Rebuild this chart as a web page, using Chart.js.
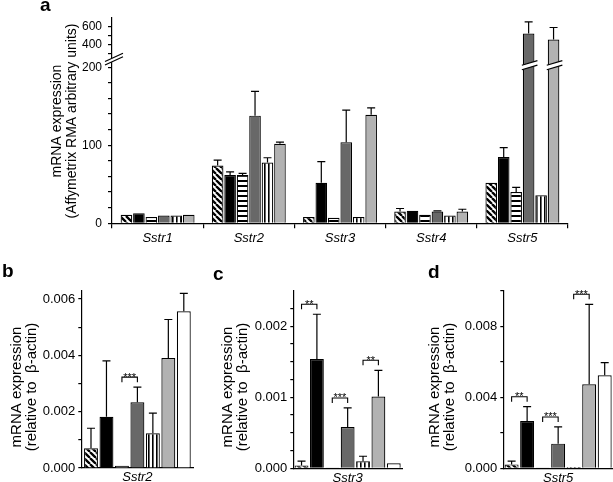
<!DOCTYPE html>
<html>
<head>
<meta charset="utf-8">
<script src="https://cdn.jsdelivr.net/npm/chart.js@4.4.1/dist/chart.umd.min.js"></script>
<style>
    html, body { margin: 0; padding: 0; background: #fff; }
    body { width: 613px; height: 482px; position: relative; overflow: hidden; }
    .panel { position: absolute; }
</style>
</head>
<body>
<div class="panel" style="left:0;top:0;width:613px;height:250px"><canvas id="chartA"></canvas></div>
<div class="panel" style="left:0;top:260px;width:200px;height:222px"><canvas id="chartB"></canvas></div>
<div class="panel" style="left:200px;top:260px;width:210px;height:222px"><canvas id="chartC"></canvas></div>
<div class="panel" style="left:410px;top:260px;width:203px;height:222px"><canvas id="chartD"></canvas></div>
<script>
// Panel a: Affymetrix RMA values, 6 groups per receptor
const aCategories = ['Sstr1', 'Sstr2', 'Sstr3', 'Sstr4', 'Sstr5'];
const aHatched    = [11, 74, 8, 15, 52];
const aHatchedErr = [null, 81, null, 19, null];
const aBlack      = [13, 62, 52, 16, 85];
const aBlackErr   = [null, 66, 79, null, 97];
const aHoriz      = [8, 62, 7, 11, 40];
const aHorizErr   = [null, 64, null, null, 46];
const aDark       = [10, 138, 104, 15, 524];
const aDarkErr    = [null, 169, 145, 16, 656];
const aVert       = [10, 78, 8, 10, 36];
const aVertErr    = [null, 84, null, null, null];
const aLight      = [11, 102, 139, 15, 456];
const aLightErr   = [null, 104, 148, 18, 592];
const aTickValues = [0, 20, 40, 60, 80, 100, 120, 140, 160, 180, 200, 300, 400, 500, 600];
const aTickLabels = ['0', '', '', '', '', '100', '', '', '', '', '200', '', '400', '', '600'];

// Panels b-d: qPCR relative to beta-actin, 7 groups each
const bCategory = ['Sstr2'];
const bValues = [0.0007, 0.00182, 0.00008, 0.00233, 0.00123, 0.0039, 0.00556];
const bErrors = [0.00141, 0.0038, null, 0.00287, 0.00195, 0.00527, 0.0062];
const bSig = [[2, 3, '***']];
const bTickValues = [0, 0.001, 0.002, 0.003, 0.004, 0.005, 0.006];
const bTickLabels = ['0.000', '', '0.002', '', '0.004', '', '0.006'];

const cCategory = ['Sstr3'];
const cValues = [0.00004, 0.00154, 0.00001, 0.00058, 0.0001, 0.00101, 0.00007];
const cErrors = [0.0001, 0.00217, null, 0.00085, 0.00017, 0.00138, null];
const cSig = [[0, 1, '**'], [2, 3, '***'], [4, 5, '**']];
const cTickValues = [0, 0.00025, 0.0005, 0.00075, 0.001, 0.00125, 0.0015, 0.00175, 0.002, 0.00225];
const cTickLabels = ['0.000', '', '', '', '0.001', '', '', '', '0.002', ''];

const dCategory = ['Sstr5'];
const dValues = [0.00022, 0.00266, 0.00002, 0.00139, 0.00008, 0.00473, 0.00524];
const dErrors = [0.0004, 0.00347, null, 0.00233, null, 0.00924, 0.00595];
const dSig = [[0, 1, '**'], [2, 3, '***'], [4, 5, '***']];
const dTickValues = [0, 0.002, 0.004, 0.006, 0.008, 0.01];
const dTickLabels = ['0.000', '', '0.004', '', '0.008', ''];

// broken axis for panel a
const aLowMax = 205, aHighMin = 280, aMax = 700;
const aLowFrac = 0.779, aHighFrac = 0.82;

const FONT = '"Liberation Sans", Arial, sans-serif';
Chart.defaults.font.family = FONT;
Chart.defaults.color = '#000';
Chart.defaults.animation = false;

class BrokenLinearScale extends Chart.LinearScale {
    getPixelForValue(value) {
        if (value === null || isNaN(value)) return NaN;
        let d;
        if (value <= aLowMax) {
            d = value / aLowMax * aLowFrac;
        } else if (value >= aHighMin) {
            d = aHighFrac + (value - aHighMin) / (aMax - aHighMin) * (1 - aHighFrac);
        } else {
            d = aLowFrac + (value - aLowMax) / (aHighMin - aLowMax) * (aHighFrac - aLowFrac);
        }
        return this.getPixelForDecimal(d);
    }
}
BrokenLinearScale.id = 'brokenLinear';
BrokenLinearScale.defaults = Chart.LinearScale.defaults;
Chart.register(BrokenLinearScale);

function makePattern(kind) {
    const c = document.createElement('canvas');
    const s = kind === 'diag' ? 6 : (kind === 'horiz' ? 5 : 4);
    c.width = s; c.height = s;
    const g = c.getContext('2d');
    g.fillStyle = '#fff';
    g.fillRect(0, 0, s, s);
    g.fillStyle = '#000';
    g.strokeStyle = '#000';
    if (kind === 'diag') {
        // lines running top-left to bottom-right
        g.lineWidth = 2.3;
        g.beginPath();
        for (let k = -s; k <= s; k += s) {
            g.moveTo(k, 0);
            g.lineTo(k + s, s);
        }
        g.stroke();
    } else if (kind === 'horiz') {
        g.fillRect(0, 0, s, 2);
    } else {
        g.fillRect(0, 0, 1.6, s);
    }
    return g.createPattern(c, 'repeat');
}

const fills = [makePattern('diag'), '#000', makePattern('horiz'), '#686868', makePattern('vert'), '#b2b2b2', '#fff'];

function drawErrorBars(chart, errSeries, capW) {
    const ctx = chart.ctx;
    const y = chart.scales.y;
    ctx.save();
    ctx.strokeStyle = '#000';
    ctx.lineWidth = 1.2;
    errSeries.forEach((errs, i) => {
        chart.getDatasetMeta(i).data.forEach((bar, j) => {
            const e = errs[j];
            if (e == null) return;
            const top = y.getPixelForValue(e);
            ctx.beginPath();
            ctx.moveTo(bar.x, bar.y);
            ctx.lineTo(bar.x, top);
            ctx.moveTo(bar.x - capW / 2, top);
            ctx.lineTo(bar.x + capW / 2, top);
            ctx.stroke();
        });
    });
    ctx.restore();
}

function drawSig(chart, sig, values, errors) {
    const ctx = chart.ctx;
    const y = chart.scales.y;
    ctx.save();
    ctx.strokeStyle = '#000';
    ctx.fillStyle = '#000';
    ctx.lineWidth = 1.1;
    ctx.font = '11px ' + FONT;
    ctx.textAlign = 'center';
    ctx.textBaseline = 'alphabetic';
    sig.forEach(([i, j, stars]) => {
        const bi = chart.getDatasetMeta(i).data[0];
        const bj = chart.getDatasetMeta(j).data[0];
        const topOf = k => y.getPixelForValue(Math.max(values[k], errors[k] || 0));
        const yb = Math.min(topOf(i), topOf(j)) - 10;
        ctx.beginPath();
        ctx.moveTo(bi.x, yb + 5);
        ctx.lineTo(bi.x, yb);
        ctx.lineTo(bj.x, yb);
        ctx.lineTo(bj.x, yb + 5);
        ctx.stroke();
        ctx.fillText(stars, (bi.x + bj.x) / 2, yb + 3.5);
    });
    ctx.restore();
}

function drawLabels(ctx, letter, lx, ly, lines, tx, ty, size) {
    ctx.save();
    ctx.fillStyle = '#000';
    ctx.font = 'bold 19px ' + FONT;
    ctx.textAlign = 'left';
    ctx.textBaseline = 'alphabetic';
    ctx.fillText(letter, lx, ly);
    ctx.translate(tx, ty);
    ctx.rotate(-Math.PI / 2);
    ctx.font = size + 'px ' + FONT;
    ctx.textAlign = 'center';
    ctx.textBaseline = 'middle';
    lines.forEach((t, k) => ctx.fillText(t, 0, k * 15));
    ctx.restore();
}

function drawBreak(ctx, x1, x2, yc, slope, gap) {
    const xm = (x1 + x2) / 2;
    const yA = yc + (xm - x1) * slope;
    const yB = yc - (x2 - xm) * slope;
    ctx.fillStyle = '#fff';
    ctx.beginPath();
    ctx.moveTo(x1, yA - gap / 2);
    ctx.lineTo(x2, yB - gap / 2);
    ctx.lineTo(x2, yB + gap / 2);
    ctx.lineTo(x1, yA + gap / 2);
    ctx.closePath();
    ctx.fill();
    ctx.strokeStyle = '#000';
    ctx.lineWidth = 1.2;
    ctx.beginPath();
    ctx.moveTo(x1, yA - gap / 2);
    ctx.lineTo(x2, yB - gap / 2);
    ctx.moveTo(x1, yA + gap / 2);
    ctx.lineTo(x2, yB + gap / 2);
    ctx.stroke();
}

// ---- panel a ----
const aSeries = [aHatched, aBlack, aHoriz, aDark, aVert, aLight];
const aErrSeries = [aHatchedErr, aBlackErr, aHorizErr, aDarkErr, aVertErr, aLightErr];

new Chart(document.getElementById('chartA'), {
    type: 'bar',
    data: {
        labels: aCategories,
        datasets: aSeries.map((s, i) => ({
            data: s,
            backgroundColor: fills[i],
            borderColor: '#000',
            borderWidth: 1.2,
            barPercentage: 0.93,
            categoryPercentage: 0.82
        }))
    },
    options: {
        responsive: true,
        maintainAspectRatio: false,
        events: [],
        layout: { padding: { top: 18, right: 45, left: 0, bottom: 0 } },
        plugins: { legend: { display: false }, tooltip: { enabled: false } },
        scales: {
            x: {
                grid: { drawOnChartArea: false, color: '#000', lineWidth: 1.2, tickLength: 5 },
                border: { color: '#000', width: 1.2 },
                ticks: { font: { size: 13, style: 'italic' }, padding: 2 },
                afterFit: s => { s.height = 26.7; }
            },
            y: {
                type: 'brokenLinear',
                min: 0,
                max: aMax,
                grid: { drawOnChartArea: false, color: '#000', lineWidth: 1.2, tickLength: 4 },
                border: { color: '#000', width: 1.2 },
                afterBuildTicks: s => { s.ticks = aTickValues.map(v => ({ value: v })); },
                ticks: { autoSkip: false, callback: (v, i) => aTickLabels[i], font: { size: 12 }, padding: 6 },
                afterFit: s => { s.width = 112; }
            }
        }
    },
    plugins: [{
        id: 'panelA',
        afterDatasetsDraw(chart) {
            drawErrorBars(chart, aErrSeries, 8);
        },
        afterDraw(chart) {
            const ctx = chart.ctx;
            const y = chart.scales.y;
            const gapY = (y.getPixelForValue(aLowMax) + y.getPixelForValue(aHighMin)) / 2;
            const x0 = chart.chartArea.left;
            ctx.save();
            drawBreak(ctx, x0 - 7, x0 + 11, gapY, 0.46, 3.5);
            aSeries.forEach((s, i) => {
                chart.getDatasetMeta(i).data.forEach((bar, j) => {
                    if (s[j] > aHighMin) {
                        drawBreak(ctx, bar.x - bar.width / 2 - 1, bar.x + bar.width / 2 + 3, gapY + 6, 0.3, 4.5);
                    }
                });
            });
            ctx.restore();
            drawLabels(ctx, 'a', 40, 11, ['mRNA expression', '(Affymetrix RMA arbitrary units)'], 57, 121, 14);
        }
    }]
});

// ---- panels b-d ----
function smallPanel(id, cats, values, errors, sig, max, tickValues, tickLabels, box) {
    new Chart(document.getElementById(id), {
        type: 'bar',
        data: {
            labels: cats,
            datasets: values.map((v, i) => ({
                data: [v],
                backgroundColor: fills[i],
                borderColor: '#000',
                borderWidth: 1.2,
                barPercentage: 0.9,
                categoryPercentage: box.catPct
            }))
        },
        options: {
            responsive: true,
            maintainAspectRatio: false,
            events: [],
            layout: { padding: { top: box.padTop, right: box.padRight, left: 0, bottom: 0 } },
            plugins: { legend: { display: false }, tooltip: { enabled: false } },
            scales: {
                x: {
                    grid: { display: false, drawTicks: false },
                    border: { color: '#000', width: 1.2 },
                    ticks: { font: { size: 13, style: 'italic' }, padding: 2 },
                    afterFit: s => { s.height = box.xH; }
                },
                y: {
                    min: 0,
                    max: max,
                    grid: { drawOnChartArea: false, color: '#000', lineWidth: 1.2, tickLength: 3 },
                    border: { color: '#000', width: 1.2 },
                    afterBuildTicks: s => { s.ticks = tickValues.map(v => ({ value: v })); },
                    ticks: { autoSkip: false, callback: (v, i) => tickLabels[i], font: { size: 13 }, padding: 3 },
                    afterFit: s => { s.width = box.yW; }
                }
            }
        },
        plugins: [{
            id: 'panelExtras',
            afterDatasetsDraw(chart) {
                drawErrorBars(chart, errors.map(e => [e]), 8);
                drawSig(chart, sig, values, errors);
            },
            afterDraw(chart) {
                drawLabels(chart.ctx, box.letter, box.lx, box.ly,
                    ['mRNA expression', '(relative to  \u03b2-actin)'], box.tx, 127, 15);
            }
        }]
    });
}

smallPanel('chartB', bCategory, bValues, bErrors, bSig, 0.0063, bTickValues, bTickLabels,
    { padTop: 30.5, padRight: 6.5, yW: 81.3, xH: 14, catPct: 0.965, letter: 'b', lx: 2, ly: 17, tx: 17 });
smallPanel('chartC', cCategory, cValues, cErrors, cSig, 0.0025, cTickValues, cTickLabels,
    { padTop: 30.8, padRight: 8, yW: 93.3, xH: 13.7, catPct: 0.99, letter: 'c', lx: 13, ly: 20, tx: 28 });
smallPanel('chartD', dCategory, dValues, dErrors, dSig, 0.01, dTickValues, dTickLabels,
    { padTop: 30.8, padRight: 0, yW: 93.3, xH: 13.7, catPct: 0.99, letter: 'd', lx: 18, ly: 18, tx: 25 });
</script>
</body>
</html>
